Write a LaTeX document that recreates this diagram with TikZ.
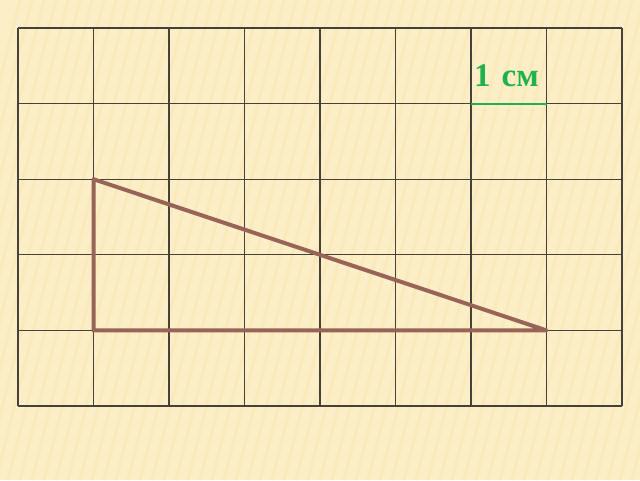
\documentclass[tikz,border=0pt]{standalone}
\usepackage{fontspec}
\setmainfont{Liberation Serif}
\begin{document}
\begin{tikzpicture}[x=1pt,y=-1pt,
  gridline/.style={draw={rgb,255:red,70;green,66;blue,58},line width=1.3pt},
  tri/.style={draw={rgb,255:red,152;green,100;blue,88},line width=4pt,line join=round},
  unitline/.style={draw={rgb,255:red,34;green,176;blue,76},line width=2.2pt}]
\definecolor{bg}{RGB}{252,239,200}
\definecolor{stripe}{RGB}{246,226,172}
\definecolor{grn}{RGB}{34,176,76}
\fill[bg] (0,0) rectangle (640,480);
\useasboundingbox (0,0) rectangle (640,480);
% subtle stripes
\begin{scope}
\clip (0,0) rectangle (640,480);
\foreach \i in {0,12,...,800} {
  \draw[stripe,line width=3pt,opacity=0.45] (\i-100,480) -- (\i+20,0);
}
\end{scope}
% grid
\foreach \x in {18,93.5,169,244.5,320,395.5,471,546.5,622} {
  \draw[gridline] (\x,28) -- (\x,406);
}
\foreach \y in {28,103.6,179.2,254.8,330.4,406} {
  \draw[gridline] (18,\y) -- (622,\y);
}
% triangle
\coordinate (A) at (93.5,179.2);
\coordinate (B) at (93.5,330.4);
\coordinate (C) at (546.5,330.4);
\draw[tri] (A) -- (B) -- (C) -- cycle;
% unit label
\coordinate (U1) at (471,103.6);
\coordinate (U2) at (546.5,103.6);
\draw[unitline] (U1) -- (U2);
\node[anchor=base west,inner sep=0pt,text=grn,font=\fontsize{33}{34}\selectfont\bfseries] (lbl) at (474,86) {1\,\,см};
\end{tikzpicture}
\end{document}
